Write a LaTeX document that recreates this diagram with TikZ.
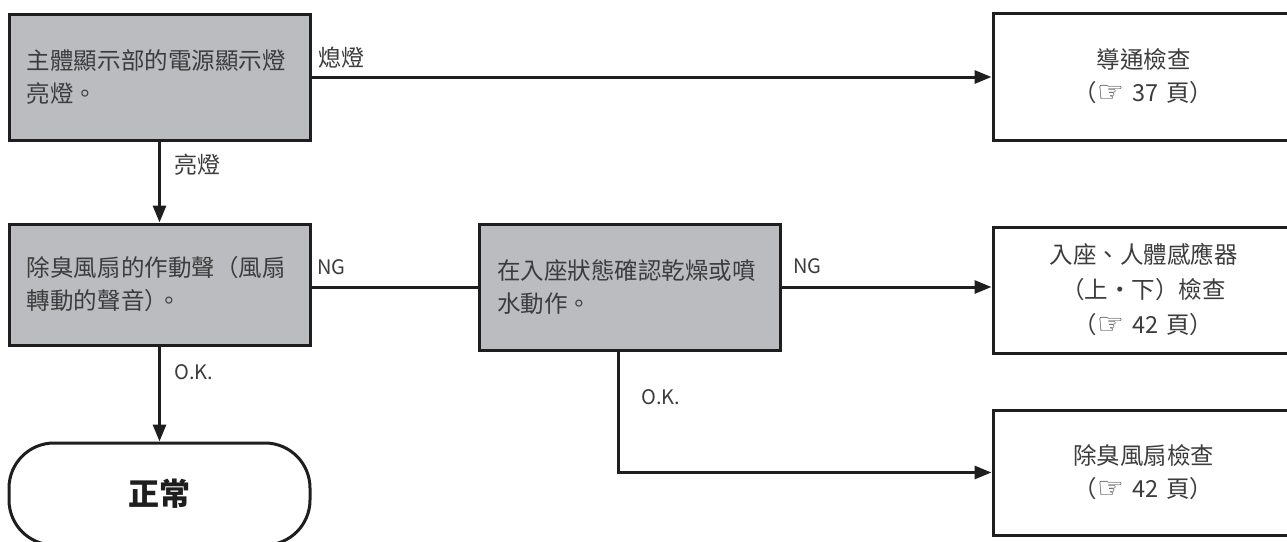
\documentclass[tikz,border=0pt]{standalone}
\usepackage{fontspec}
\setmainfont{Noto Sans CJK TC}
\newfontfamily\symfont{DejaVu Sans}
\usetikzlibrary{arrows.meta}
\definecolor{boxgray}{RGB}{187,188,192}
\definecolor{txt}{RGB}{60,60,60}
\definecolor{ln}{RGB}{30,30,30}
\newcommand{\hand}{{\symfont\fontsize{30pt}{30pt}\selectfont\raisebox{-1pt}{☞}}}
\tikzset{
  base/.style={draw=ln, line width=3pt, text=txt, inner ysep=0pt,
    font=\fontsize{23.5pt}{33pt}\selectfont},
  graybox/.style={base, fill=boxgray, minimum width=301pt, text width=265pt,
    inner xsep=18pt, align=left},
  whitebox/.style={base, fill=white, minimum width=301pt, text width=281pt,
    inner xsep=10pt, align=center},
  term/.style={draw=ln, line width=3pt, rounded corners=45pt, minimum width=301pt,
    minimum height=102pt, font=\bfseries\fontsize{31pt}{31pt}\selectfont, text=ln},
  lbl/.style={text=txt, font=\fontsize{23pt}{23pt}\selectfont, inner sep=0pt},
  lat/.style={text=txt, font=\fontsize{20pt}{20pt}\selectfont, inner sep=0pt},
  conn/.style={draw=ln, line width=3pt},
  arr/.style={conn, -{Triangle[length=17pt,width=13pt]}}
}
\begin{document}
\begin{tikzpicture}[x=1pt,y=-1pt]
\useasboundingbox (0,0) rectangle (1287,541);
\clip (0,0) rectangle (1287,541);
% nodes
\node[graybox, minimum height=126pt] (A) at (159.5,77) {主體顯示部的電源顯示燈\\亮燈。};
\node[whitebox, minimum height=127pt] (B) at (1143.5,76.5) {導通檢查\\（\hand{} 37 頁）};
\node[graybox, minimum height=121pt] (C) at (159.5,284.5) {除臭風扇的作動聲（風扇\\轉動的聲音）\kern-0.45em。};
\node[graybox, minimum height=126pt] (D) at (629.5,287) {在入座狀態確認乾燥或噴\\水動作。};
\node[whitebox, minimum height=126pt, font=\fontsize{23.5pt}{35pt}\selectfont] (E) at (1143.5,290) {入座、人體感應器\\（上・下）檢查\\（\hand{} 42 頁）};
\node[whitebox, minimum height=125pt] (F) at (1143.5,472.5) {除臭風扇檢查\\（\hand{} 42 頁）};
\node[term] (T) at (159.5,494) {正常};
\coordinate (Dok) at ([xshift=-11.5pt]D.south);
% connectors
\draw[arr] (A.east) -- (A.east -| B.west);
\draw[arr] (A.south) -- (C.north);
\draw[conn] (D.west -| C.east) -- (D.west);
\draw[arr] (D.east) -- (D.east -| E.west);
\draw[arr] (Dok) |- (F.west);
\draw[arr] (C.south) -- (T.north);
% labels
\node[lbl] (l1) at (341,58) {熄燈};
\node[lbl] (l2) at (197,165) {亮燈};
\node[lat, anchor=west] (l3) at (317,267) {NG};
\node[lat, anchor=west] (l4) at (793,266) {NG};
\node[lat, anchor=west] (l5) at (174,372) {O.K.};
\node[lat, anchor=west] (l6) at (641,397) {O.K.};
\end{tikzpicture}
\end{document}
